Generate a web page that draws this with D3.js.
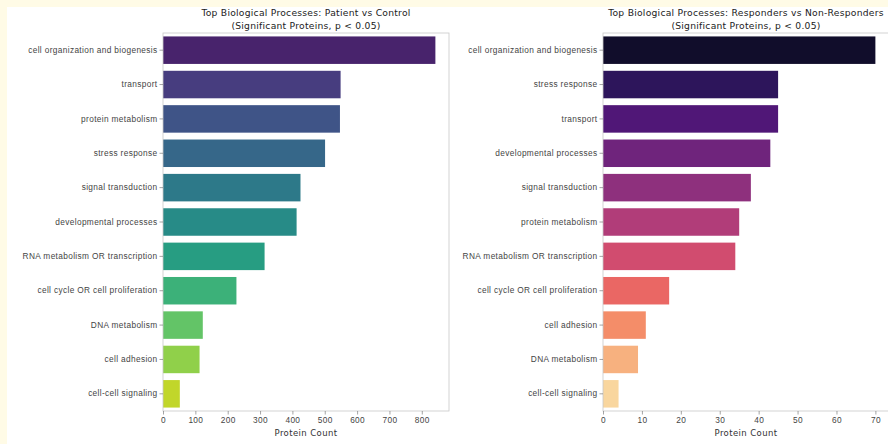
<!DOCTYPE html>
<html>
<head>
<meta charset="utf-8">
<script src="https://cdn.jsdelivr.net/npm/d3@7"></script>
<style>
  body { margin: 0; background: #fffbe6; }
  svg { display: block; font-family: "DejaVu Sans", sans-serif; }
</style>
</head>
<body>
<div id="chart"></div>
<script>
const width = 888;
const height = 444;

// Patient vs Control
const leftCategories = [
  "cell organization and biogenesis", "transport", "protein metabolism",
  "stress response", "signal transduction", "developmental processes",
  "RNA metabolism OR transcription", "cell cycle OR cell proliferation",
  "DNA metabolism", "cell adhesion", "cell-cell signaling"
];
const leftValues = [842, 549, 547, 501, 425, 413, 314, 227, 123, 113, 52];
const leftTicks = [0, 100, 200, 300, 400, 500, 600, 700, 800];

// Responders vs Non-Responders
const rightCategories = [
  "cell organization and biogenesis", "stress response", "transport",
  "developmental processes", "signal transduction", "protein metabolism",
  "RNA metabolism OR transcription", "cell cycle OR cell proliferation",
  "cell adhesion", "DNA metabolism", "cell-cell signaling"
];
const rightValues = [70, 45, 45, 43, 38, 35, 34, 17, 11, 9, 4];
const rightTicks = [0, 10, 20, 30, 40, 50, 60, 70];

const titles = [
  ["Top Biological Processes: Patient vs Control", "(Significant Proteins, p < 0.05)"],
  ["Top Biological Processes: Responders vs Non-Responders", "(Significant Proteins, p < 0.05)"]
];

const svg = d3.select("#chart").append("svg")
  .attr("width", width)
  .attr("height", height);

svg.append("rect").attr("width", width).attr("height", height).attr("fill", "#fffbe6");
svg.append("rect").attr("x", 7).attr("y", 7).attr("width", width - 7).attr("height", height - 7).attr("fill", "#fff");

// seaborn-like palette: sample the colormap away from both ends
function palette(interp, n) {
  return d3.range(n).map(i => {
    const c = d3.hsl(interp((i + 1) / (n + 1)));
    c.s *= 0.9;
    return c.formatHex();
  });
}

function drawPanel(left, cats, vals, ticks, colors, title) {
  const top = 33, bottom = 411, w = 286;
  const x = d3.scaleLinear().domain([0, d3.max(vals) * 1.05]).range([left, left + w]);
  const y = d3.scaleBand().domain(cats).range([top, bottom]).padding(0.2).paddingOuter(0.1);

  const g = svg.append("g");

  g.append("g").selectAll("rect")
    .data(vals)
    .join("rect")
      .attr("x", x(0))
      .attr("y", (d, i) => y(cats[i]))
      .attr("width", d => x(d) - x(0))
      .attr("height", y.bandwidth())
      .attr("fill", (d, i) => colors[i]);

  // frame
  g.append("rect")
    .attr("x", left).attr("y", top)
    .attr("width", w).attr("height", bottom - top)
    .attr("fill", "none").attr("stroke", "#c8c8c8").attr("stroke-width", 0.8);

  const yAxis = g.append("g")
    .attr("transform", `translate(${left},0)`)
    .call(d3.axisLeft(y).tickSize(3.5).tickPadding(2));
  const xAxis = g.append("g")
    .attr("transform", `translate(0,${bottom})`)
    .call(d3.axisBottom(x).tickValues(ticks).tickSize(3.5).tickPadding(2.5));

  [yAxis, xAxis].forEach(a => {
    a.select(".domain").remove();
    a.selectAll(".tick line").attr("stroke", "#666").attr("stroke-width", 0.6);
    a.selectAll(".tick text").attr("fill", "#444")
      .style("font-size", "8.3px").style("letter-spacing", "0.35px");
  });

  g.append("text")
    .attr("x", left + w / 2).attr("y", 436)
    .attr("text-anchor", "middle")
    .attr("fill", "#333").style("font-size", "8.5px").style("letter-spacing", "0.4px")
    .text("Protein Count");

  g.append("g").selectAll("text")
    .data(title)
    .join("text")
      .attr("x", left + w / 2)
      .attr("y", (d, i) => 16 + i * 12.5)
      .attr("text-anchor", "middle")
      .attr("fill", "#222").style("font-size", "9.2px").style("letter-spacing", "0.25px")
      .text(d => d);
}

drawPanel(163, leftCategories, leftValues, leftTicks, palette(d3.interpolateViridis, 11), titles[0]);
drawPanel(603, rightCategories, rightValues, rightTicks, palette(d3.interpolateMagma, 11), titles[1]);
</script>
</body>
</html>
